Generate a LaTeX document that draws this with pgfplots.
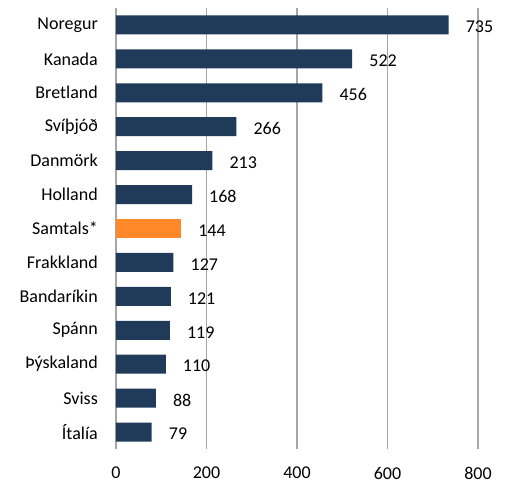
\documentclass[border=0pt]{standalone}
\usepackage{fontspec}
\setmainfont{Carlito}
\usepackage{pgfplots}
\pgfplotsset{compat=1.18}
\definecolor{navy}{HTML}{203A5A}
\definecolor{orng}{HTML}{FF8828}
\definecolor{gridg}{HTML}{A6A6A6}
\begin{document}
\fontsize{18bp}{21bp}\selectfont
\begin{tikzpicture}
\begin{axis}[
  scale only axis,
  width=362bp, height=441bp,
  xmin=0, xmax=800,
  ymin=-0.5, ymax=12.5,
  y dir=reverse,
  axis line style={draw=none},
  xmajorgrids,
  grid style={gridg, line width=1.6bp},
  xtick={0,200,400,600,800},
  ytick={0,...,12},
  yticklabels={Noregur,Kanada,Bretland,Svíþjóð,Danmörk,Holland,Samtals*,Frakkland,Bandaríkin,Spánn,Þýskaland,Sviss,Ítalía},
  major tick length=0pt,
  tick style={draw=none},
  xticklabel style={inner sep=1bp, yshift=-17bp},
  yticklabel style={xshift=-12bp},
  /pgf/number format/assume math mode=true,
  tick label style={font=\fontsize{18bp}{21bp}\selectfont},
  xbar, bar width=19bp, bar shift=0pt,
  nodes near coords,
  nodes near coords style={anchor=west, xshift=11bp, yshift=-2bp, black, font=\fontsize{18bp}{21bp}\selectfont},
  clip=false,
]
\addplot[fill=navy, draw=none] coordinates {
(735,0) (522,1) (456,2) (266,3) (213,4) (168,5) (127,7) (121,8) (119,9) (110,10) (88,11) (79,12)};
\addplot[fill=orng, draw=none] coordinates {(144,6)};
\end{axis}
\pgfresetboundingbox
\path (-116bp,-33bp) rectangle (392bp,449bp);
\end{tikzpicture}
\end{document}
